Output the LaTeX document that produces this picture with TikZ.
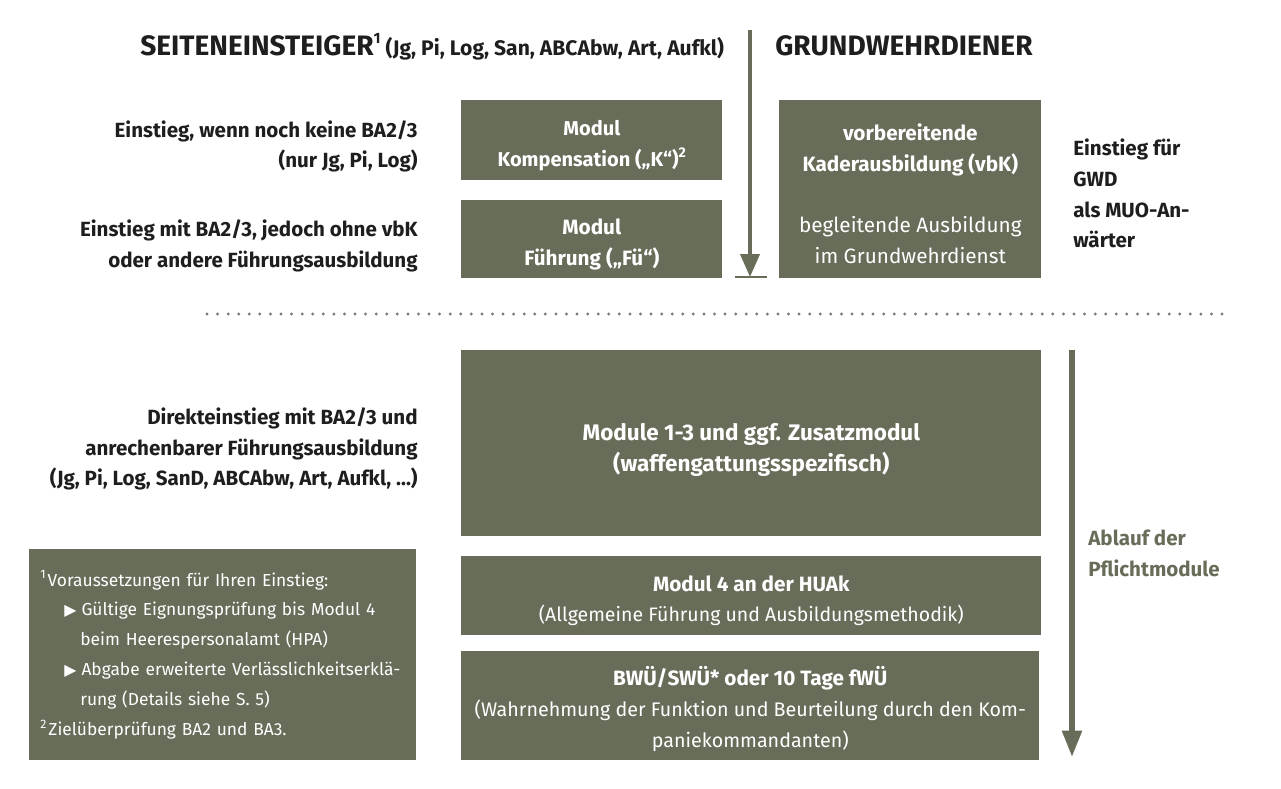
\documentclass[tikz,border=0pt]{standalone}
\usepackage{fontspec}
\setmainfont{Fira Sans}
\newfontfamily\symfont{DejaVu Sans}
\usetikzlibrary{arrows.meta,positioning}
\definecolor{olive}{HTML}{676D59}
\definecolor{ink}{HTML}{1E1E1E}
\definecolor{dotgray}{HTML}{7A7A7A}

\tikzset{
  box/.style={fill=olive,text=white,align=center,inner sep=0pt,anchor=north west,
    font=\bfseries\fontsize{11.8}{17.5}\selectfont},
  lbl/.style={text=ink,align=right,anchor=east,inner sep=0pt,
    font=\bfseries\fontsize{11.7}{17.5}\selectfont},
  flow/.style={olive,line width=.11cm,-{Triangle[width=.38cm,length=.53cm]}}
}
\newcommand{\tri}{{\symfont\fontsize{9}{9}\selectfont ▶}}
\newcommand{\supnum}[2][7]{\raisebox{.8ex}{\fontsize{#1}{#1}\selectfont #2}}
\newcommand{\tg}[1][14.5pt]{\rule{0pt}{#1}}

\begin{document}
\begin{tikzpicture}[x=.02cm,y=-.02cm]
  \useasboundingbox (0,0) rectangle (1281,788);

  % headings
  \node[anchor=base west,inner sep=0pt,text=ink] (seite) at (140,55)
    {\bfseries\fontsize{16}{18}\selectfont SEITENEINSTEIGER\supnum[8.5]{1}\hspace{.1cm}%
     \fontsize{12}{14}\selectfont(Jg, Pi, Log, San, ABCAbw, Art, Aufkl)};
  \node[anchor=base west,inner sep=0pt,text=ink] (gwd) at (775,55)
    {\bfseries\fontsize{16}{18}\selectfont GRUNDWEHRDIENER};

  % upper part
  \node[box,minimum width=5.22cm,minimum height=1.6cm,font=\bfseries\fontsize{11.4}{17.5}\selectfont] (komp) at (461,100)
    {\tg Modul\\Kompensation („K“)\supnum[8]{2}};
  \node[box,minimum width=5.22cm,minimum height=1.56cm] (fuehr) at (461,200)
    {\tg Modul\\Führung („Fü“)};
  \node[box,minimum width=5.24cm,minimum height=3.56cm] (vbk) at (779,100)
    {\tg vorbereitende\\Kaderausbildung (vbK)\\[17.5pt]\mdseries begleitende Ausbildung\\\mdseries im Grundwehrdienst};

  \node[lbl] (lblK) at (418,146.5) {Einstieg, wenn noch keine BA2/3\\(nur Jg, Pi, Log)};
  \node[lbl] (lblF) at (418,246) {Einstieg mit BA2/3, jedoch ohne vbK\\oder andere Führungsausbildung};
  \node[lbl,align=left,anchor=west] (gwdtxt) at (1073,193.5) {Einstieg für\\GWD\\als MUO-An-\\wärter};

  \coordinate (gwtop) at (750,30);
  \coordinate (gwbot) at (750,277);
  \coordinate (barL) at (735,277);
  \coordinate (barR) at (767,277);
  \draw[flow,line width=.08cm,-{Triangle[width=.38cm,length=.46cm]}] (gwtop) -- (gwbot);
  \draw[olive,line width=.045cm] (barL) -- (barR);

  % separator
  \coordinate (sepL) at (207,314);
  \coordinate (sepR) at (1225,314);
  \draw[dotgray,line width=.065cm,line cap=round,dash pattern=on 0cm off .2115cm] (sepL) -- (sepR);

  % lower part
  \node[box,minimum width=11.6cm,minimum height=3.72cm,font=\bfseries\fontsize{12.8}{17.5}\selectfont] (mod13) at (461,350)
    {\tg[17pt]Module 1-3 und ggf. Zusatzmodul\\(waffengattungsspezifisch)};
  \node[box,minimum width=11.6cm,minimum height=1.58cm] (mod4) at (461,556)
    {\tg Modul 4 an der HUAk\\\mdseries\fontsize{11.1}{17.5}\selectfont(Allgemeine Führung und Ausbildungsmethodik)};
  \node[box,minimum width=11.56cm,minimum height=2.18cm] (bwue) at (461,651)
    {\tg BWÜ/SWÜ* oder 10 Tage fWÜ\\\mdseries\fontsize{11.2}{17.5}\selectfont(Wahrnehmung der Funktion und Beurteilung durch den Kom-\\\mdseries\fontsize{11.2}{17.5}\selectfont paniekommandanten)};

  \node[lbl] (lblD) at (418,449)
    {Direkteinstieg mit BA2/3 und\\anrechenbarer Führungsausbildung\\(Jg, Pi, Log, SanD, ABCAbw, Art, Aufkl, ...)};

  \node[box,align=left,text width=7.3cm,inner xsep=.22cm,minimum height=4.22cm,
    font=\fontsize{9.9}{17}\selectfont] (fn) at (29,549)
    {\supnum{1}\hspace{.04cm}Voraussetzungen für Ihren Einstieg:\\
     \hspace*{.48cm}\tri\hspace{.1cm}Gültige Eignungsprüfung bis Modul 4\\
     \hspace*{.8cm}beim Heerespersonalamt (HPA)\\
     \hspace*{.48cm}\tri\hspace{.1cm}Abgabe erweiterte Verlässlichkeitserklä-\\
     \hspace*{.8cm}rung (Details siehe S. 5)\\
     \supnum{2}\hspace{.04cm}Zielüberprüfung BA2 und BA3.};

  \coordinate (flowtop) at (1072,350);
  \coordinate (flowbot) at (1072,757);
  \draw[flow] (flowtop) -- (flowbot);
  \node[anchor=west,align=left,inner sep=0pt,text=olive,font=\bfseries\fontsize{11.7}{17.5}\selectfont] (ablauf) at (1088,553)
    {Ablauf der\\Pflichtmodule};
\end{tikzpicture}
\end{document}
